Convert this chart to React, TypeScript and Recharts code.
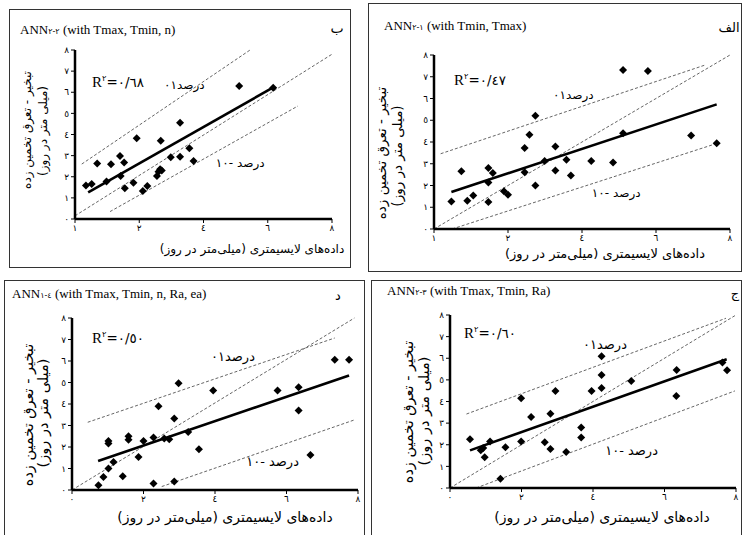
import { ScatterChart, Scatter, XAxis, YAxis, ReferenceLine } from "recharts";

type Pt = { x: number; y: number };

const yTicks = [0, 1, 2, 3, 4, 5, 6, 7, 8];
const xTicks = [0, 2, 4, 6, 8];
const yTickLabels = ["٠", "١", "٢", "٣", "٤", "٥", "٦", "٧", "٨"];
const xTickLabelsTop = ["١", "٢", "٤", "٦", "٨"];
const xTickLabelsBottom = ["٠", "٢", "٤", "٦", "٨"];

const yLabel1 = "تبخیر - تعرق تخمین زده";
const yLabel2 = "(میلی متر در روز)";
const xLabel = "داده‌های لایسیمتری (میلی‌متر در روز)";
const pctWord = "درصد";
const upNum = "٠١";
const lowNum = "١٠-";

// panel ب : ANN (with Tmax, Tmin, n)
const obsB: Pt[] = [
  { x: 0.34, y: 1.58 }, { x: 0.52, y: 1.66 }, { x: 0.69, y: 2.63 }, { x: 0.98, y: 1.77 },
  { x: 1.12, y: 2.59 }, { x: 1.4, y: 2.98 }, { x: 1.42, y: 2.03 }, { x: 1.53, y: 2.67 },
  { x: 1.55, y: 1.45 }, { x: 1.82, y: 1.72 }, { x: 1.92, y: 3.82 }, { x: 2.11, y: 1.33 },
  { x: 2.25, y: 1.56 }, { x: 2.55, y: 2.04 }, { x: 2.6, y: 2.24 }, { x: 2.65, y: 2.36 },
  { x: 2.7, y: 2.29 }, { x: 2.67, y: 3.71 }, { x: 2.98, y: 2.92 }, { x: 3.27, y: 2.95 },
  { x: 3.27, y: 4.56 }, { x: 3.56, y: 3.35 }, { x: 3.69, y: 2.75 }, { x: 5.11, y: 6.29 },
  { x: 6.17, y: 6.21 },
];
const fitB: Pt[] = [{ x: 0.41, y: 1.26 }, { x: 6.17, y: 6.23 }];
const upperB: Pt[] = [{ x: 0.21, y: 2.6 }, { x: 5.45, y: 8 }];
const diagB: Pt[] = [{ x: 0, y: 0.15 }, { x: 8, y: 7.8 }];
const lowerB: Pt[] = [{ x: 1.09, y: 0.35 }, { x: 6.94, y: 5.35 }];

// panel الف : ANN (with Tmin, Tmax)
const obsA: Pt[] = [
  { x: 0.47, y: 1.27 }, { x: 0.74, y: 2.65 }, { x: 0.9, y: 1.3 }, { x: 1.06, y: 1.54 },
  { x: 1.47, y: 2.8 }, { x: 1.47, y: 2.14 }, { x: 1.47, y: 1.24 }, { x: 1.59, y: 2.57 },
  { x: 1.89, y: 1.73 }, { x: 2.0, y: 1.57 }, { x: 2.45, y: 3.72 }, { x: 2.45, y: 2.61 },
  { x: 2.58, y: 4.33 }, { x: 2.74, y: 5.21 }, { x: 2.74, y: 2.0 }, { x: 2.99, y: 3.13 },
  { x: 3.28, y: 3.79 }, { x: 3.28, y: 2.69 }, { x: 3.58, y: 3.18 }, { x: 3.7, y: 2.46 },
  { x: 4.25, y: 3.13 }, { x: 4.84, y: 3.06 }, { x: 5.11, y: 4.4 }, { x: 5.11, y: 7.31 },
  { x: 5.78, y: 7.26 }, { x: 6.95, y: 4.3 }, { x: 7.64, y: 3.94 },
];
const fitA: Pt[] = [{ x: 0.47, y: 1.7 }, { x: 7.64, y: 5.73 }];
const upperA: Pt[] = [{ x: 0.18, y: 3.46 }, { x: 7.33, y: 7.54 }];
const diagA: Pt[] = [{ x: 0, y: 0 }, { x: 8, y: 8 }];
const lowerA: Pt[] = [{ x: 0.49, y: 0 }, { x: 7.6, y: 3.91 }];

// panel د : ANN (with Tmax, Tmin, n, Ra, ea)
const obsD: Pt[] = [
  { x: 0.74, y: 0.22 }, { x: 0.88, y: 0.6 }, { x: 1.02, y: 2.28 }, { x: 1.02, y: 2.16 },
  { x: 1.02, y: 1.0 }, { x: 1.16, y: 1.3 }, { x: 1.42, y: 0.64 }, { x: 1.58, y: 2.5 },
  { x: 1.58, y: 2.34 }, { x: 1.86, y: 1.53 }, { x: 2.0, y: 2.28 }, { x: 2.28, y: 2.44 },
  { x: 2.28, y: 0.3 }, { x: 2.42, y: 3.89 }, { x: 2.58, y: 2.39 }, { x: 2.72, y: 2.36 },
  { x: 2.86, y: 3.32 }, { x: 2.86, y: 0.4 }, { x: 2.98, y: 4.97 }, { x: 3.25, y: 2.7 },
  { x: 3.55, y: 1.89 }, { x: 3.95, y: 4.63 }, { x: 5.75, y: 4.63 }, { x: 6.34, y: 4.78 },
  { x: 6.34, y: 3.7 }, { x: 6.67, y: 1.63 }, { x: 7.35, y: 6.06 }, { x: 7.75, y: 6.06 },
];
const fitD: Pt[] = [{ x: 0.73, y: 1.35 }, { x: 7.75, y: 5.33 }];
const upperD: Pt[] = [{ x: 0.44, y: 3.15 }, { x: 7.35, y: 7.07 }];
const diagD: Pt[] = [{ x: 0, y: 0 }, { x: 7.9, y: 8 }];
const lowerD: Pt[] = [{ x: 2.51, y: 0.16 }, { x: 7.9, y: 3.26 }];

// panel ج : ANN (with Tmax, Tmin, Ra)
const obsJ: Pt[] = [
  { x: 0.56, y: 2.26 }, { x: 0.86, y: 1.74 }, { x: 0.93, y: 1.85 }, { x: 0.97, y: 1.42 },
  { x: 1.12, y: 2.15 }, { x: 1.41, y: 0.43 }, { x: 1.55, y: 1.89 }, { x: 1.99, y: 4.15 },
  { x: 1.99, y: 2.15 }, { x: 2.27, y: 3.28 }, { x: 2.65, y: 2.11 }, { x: 2.81, y: 1.8 },
  { x: 2.81, y: 3.43 }, { x: 2.95, y: 4.49 }, { x: 3.25, y: 1.66 }, { x: 3.67, y: 2.8 },
  { x: 3.67, y: 2.34 }, { x: 3.96, y: 4.49 }, { x: 4.24, y: 6.09 }, { x: 4.24, y: 5.23 },
  { x: 4.24, y: 4.62 }, { x: 5.07, y: 4.95 }, { x: 6.33, y: 4.26 }, { x: 6.34, y: 5.46 },
  { x: 7.62, y: 5.8 }, { x: 7.75, y: 5.45 },
];
const fitJ: Pt[] = [{ x: 0.56, y: 1.74 }, { x: 7.74, y: 5.95 }];
const upperJ: Pt[] = [{ x: 0.46, y: 3.42 }, { x: 7.72, y: 7.85 }];
const diagJ: Pt[] = [{ x: 0, y: 0 }, { x: 8, y: 8 }];
const lowerJ: Pt[] = [{ x: 0.73, y: 0 }, { x: 7.97, y: 4.49 }];

const persian = "'DejaVu Sans', sans-serif";
const serif = "'Liberation Serif', 'Times New Roman', serif";

const Diamond = (props: any) => {
  const { cx, cy } = props;
  if (cx == null || cy == null) return null;
  const r = 4;
  return (
    <polygon
      points={`${cx},${cy - r} ${cx + r},${cy} ${cx},${cy + r} ${cx - r},${cy}`}
      fill="#000"
    />
  );
};

type PlotProps = {
  box: [number, number, number, number]; // page px of x=0, x=8, y=8, y=0
  obs: Pt[];
  fit: Pt[];
  upper: Pt[];
  diag: Pt[];
  lower: Pt[];
  xLabels: string[];
};

const Plot = ({ box, obs, fit, upper, diag, lower, xLabels }: PlotProps) => {
  const [x0, x8, y8, y0] = box;
  const w = x8 - x0 + 40;
  const h = y0 - y8 + 35;
  const dashed = { stroke: "#666", strokeWidth: 1, strokeDasharray: "3 2" };
  return (
    <div style={{ position: "absolute", left: x0 - 30, top: y8 - 10 }}>
      <ScatterChart width={w} height={h} margin={{ top: 10, right: 10, bottom: 0, left: 0 }}>
        <XAxis
          type="number"
          dataKey="x"
          domain={[0, 8]}
          ticks={xTicks}
          tickFormatter={(v: number) => xLabels[xTicks.indexOf(v)]}
          height={25}
          axisLine={{ stroke: "#000", strokeWidth: 2.5 }}
          tickLine={{ stroke: "#000" }}
          tickSize={4}
          tick={{ fontSize: 9, fill: "#000", fontFamily: persian }}
        />
        <YAxis
          type="number"
          dataKey="y"
          domain={[0, 8]}
          ticks={yTicks}
          tickFormatter={(v: number) => yTickLabels[v]}
          width={30}
          axisLine={{ stroke: "#000", strokeWidth: 2.5 }}
          tickLine={{ stroke: "#000" }}
          tickSize={4}
          tick={{ fontSize: 9, fill: "#000", fontFamily: persian }}
        />
        <ReferenceLine segment={upper} ifOverflow="visible" {...dashed} />
        <ReferenceLine segment={diag} ifOverflow="visible" {...dashed} />
        <ReferenceLine segment={lower} ifOverflow="visible" {...dashed} />
        <ReferenceLine segment={fit} ifOverflow="visible" stroke="#000" strokeWidth={2.6} />
        <Scatter data={obs} shape={Diamond} isAnimationActive={false} />
      </ScatterChart>
    </div>
  );
};

const shift: Record<string, string> = {
  left: "translate(0, -50%)",
  center: "translate(-50%, -50%)",
  right: "translate(-100%, -50%)",
};

const T = ({ x, y, size, font, anchor = "left", rtl, ltrForce, children }: any) => (
  <div
    dir={rtl ? "rtl" : "ltr"}
    style={{
      position: "absolute",
      left: x,
      top: y,
      transform: shift[anchor],
      fontSize: size,
      fontFamily: font,
      whiteSpace: "nowrap",
      lineHeight: 1,
      color: "#000",
      unicodeBidi: ltrForce ? "bidi-override" : undefined,
    }}
  >
    {children}
  </div>
);

const RotLabel = ({ x, y, size, text }: any) => (
  <div
    dir="rtl"
    style={{
      position: "absolute",
      left: x,
      top: y,
      transform: "translate(-50%, -50%) rotate(-90deg)",
      fontSize: size,
      fontFamily: persian,
      whiteSpace: "nowrap",
      lineHeight: 1,
    }}
  >
    {text}
  </div>
);

const Title = ({ x, y, sub, rest }: any) => (
  <T x={x} y={y} size={13} font={serif}>
    ANN
    <span style={{ fontSize: 8, fontFamily: persian, unicodeBidi: "bidi-override", direction: "ltr", display: "inline-block" }}>
      {sub}
    </span>
    {" " + rest}
  </T>
);

const R2 = ({ x, y, val, size }: any) => (
  <T x={x} y={y} size={size} font={serif}>
    R<sup style={{ fontSize: size * 0.55, fontFamily: persian }}>٢</sup>
    <span style={{ fontFamily: persian, fontSize: size * 0.9, unicodeBidi: "bidi-override", direction: "ltr", display: "inline-block" }}>
      ={val}
    </span>
  </T>
);

// number drawn left of the split point, word right of it
const PctLabel = ({ split, y, size, num, gap }: any) => (
  <>
    <T x={split} y={y} size={size} font={persian} anchor="right" ltrForce>{num}</T>
    <T x={split + gap} y={y} size={size} font={persian} anchor="left" rtl>{pctWord}</T>
  </>
);

const Box = ({ l, t, r, b }: any) => (
  <div
    style={{
      position: "absolute",
      left: l,
      top: t,
      width: r - l,
      height: b - t,
      border: "1.5px solid #333",
      boxSizing: "border-box",
    }}
  />
);

export default function App() {
  return (
    <div
      style={{
        position: "absolute",
        left: 0,
        top: 0,
        width: 744,
        height: 535,
        overflow: "hidden",
        background: "#fff",
      }}
    >
      <Box l={9} t={9} r={351} b={268} />
      <Box l={368} t={3} r={742} b={272} />
      <Box l={4} t={280} r={365} b={545} />
      <Box l={371} t={280} r={742} b={545} />

      {/* ب */}
      <Plot box={[75, 332, 50, 219]} obs={obsB} fit={fitB} upper={upperB} diag={diagB} lower={lowerB} xLabels={xTickLabelsTop} />
      <Title x={20} y={29} sub="٢-٢" rest="(with Tmax, Tmin, n)" />
      <T x={337} y={28} size={14} font={persian} anchor="center" rtl>ب</T>
      <R2 x={92} y={82} val="٠/٦٨" size={15} />
      <PctLabel split={177} y={85} size={12} num={upNum} gap={0} />
      <PctLabel split={233} y={163} size={12} num={lowNum} gap={4} />
      <RotLabel x={27} y={130} size={12} text={yLabel1} />
      <RotLabel x={43} y={131} size={12} text={yLabel2} />
      <T x={252} y={249} size={12} font={persian} anchor="center" rtl>{xLabel}</T>

      {/* الف */}
      <Plot box={[434, 730, 55, 229]} obs={obsA} fit={fitA} upper={upperA} diag={diagA} lower={lowerA} xLabels={xTickLabelsTop} />
      <Title x={384} y={25} sub="٢-١" rest="(with Tmin, Tmax)" />
      <T x={729} y={27} size={13} font={persian} anchor="center" rtl>الف</T>
      <R2 x={454} y={80} val="٠/٤٧" size={15} />
      <PctLabel split={566} y={95} size={12} num={upNum} gap={0} />
      <PctLabel split={609} y={193} size={12} num={lowNum} gap={4} />
      <RotLabel x={382} y={153} size={13.5} text={yLabel1} />
      <RotLabel x={398} y={156} size={13.5} text={yLabel2} />
      <T x={605} y={253} size={13} font={persian} anchor="center" rtl>{xLabel}</T>

      {/* د */}
      <Plot box={[72, 358, 318, 490]} obs={obsD} fit={fitD} upper={upperD} diag={diagD} lower={lowerD} xLabels={xTickLabelsBottom} />
      <Title x={12} y={293} sub="١-٤" rest="(with Tmax, Tmin, n, Ra, ea)" />
      <T x={338} y={295} size={13} font={persian} anchor="center" rtl>د</T>
      <R2 x={92} y={338} val="٠/٥٠" size={15} />
      <PctLabel split={225} y={356} size={13} num={upNum} gap={0} />
      <PctLabel split={265} y={461} size={13} num={lowNum} gap={4} />
      <RotLabel x={28} y={415} size={14.5} text={yLabel1} />
      <RotLabel x={43} y={413} size={14.5} text={yLabel2} />
      <T x={225} y={517} size={14} font={persian} anchor="center" rtl>{xLabel}</T>

      {/* ج */}
      <Plot box={[450, 736, 315, 488]} obs={obsJ} fit={fitJ} upper={upperJ} diag={diagJ} lower={lowerJ} xLabels={xTickLabelsBottom} />
      <Title x={387} y={290} sub="٢-٣" rest="(with Tmax, Tmin, Ra)" />
      <T x={735} y={293} size={13} font={persian} anchor="center" rtl>ج</T>
      <R2 x={464} y={333} val="٠/٦٠" size={15} />
      <PctLabel split={597} y={344} size={13} num={upNum} gap={0} />
      <PctLabel split={624} y={450} size={13} num={lowNum} gap={4} />
      <RotLabel x={408} y={412} size={14.5} text={yLabel1} />
      <RotLabel x={424} y={411} size={14.5} text={yLabel2} />
      <T x={602} y={517} size={14} font={persian} anchor="center" rtl>{xLabel}</T>
    </div>
  );
}
